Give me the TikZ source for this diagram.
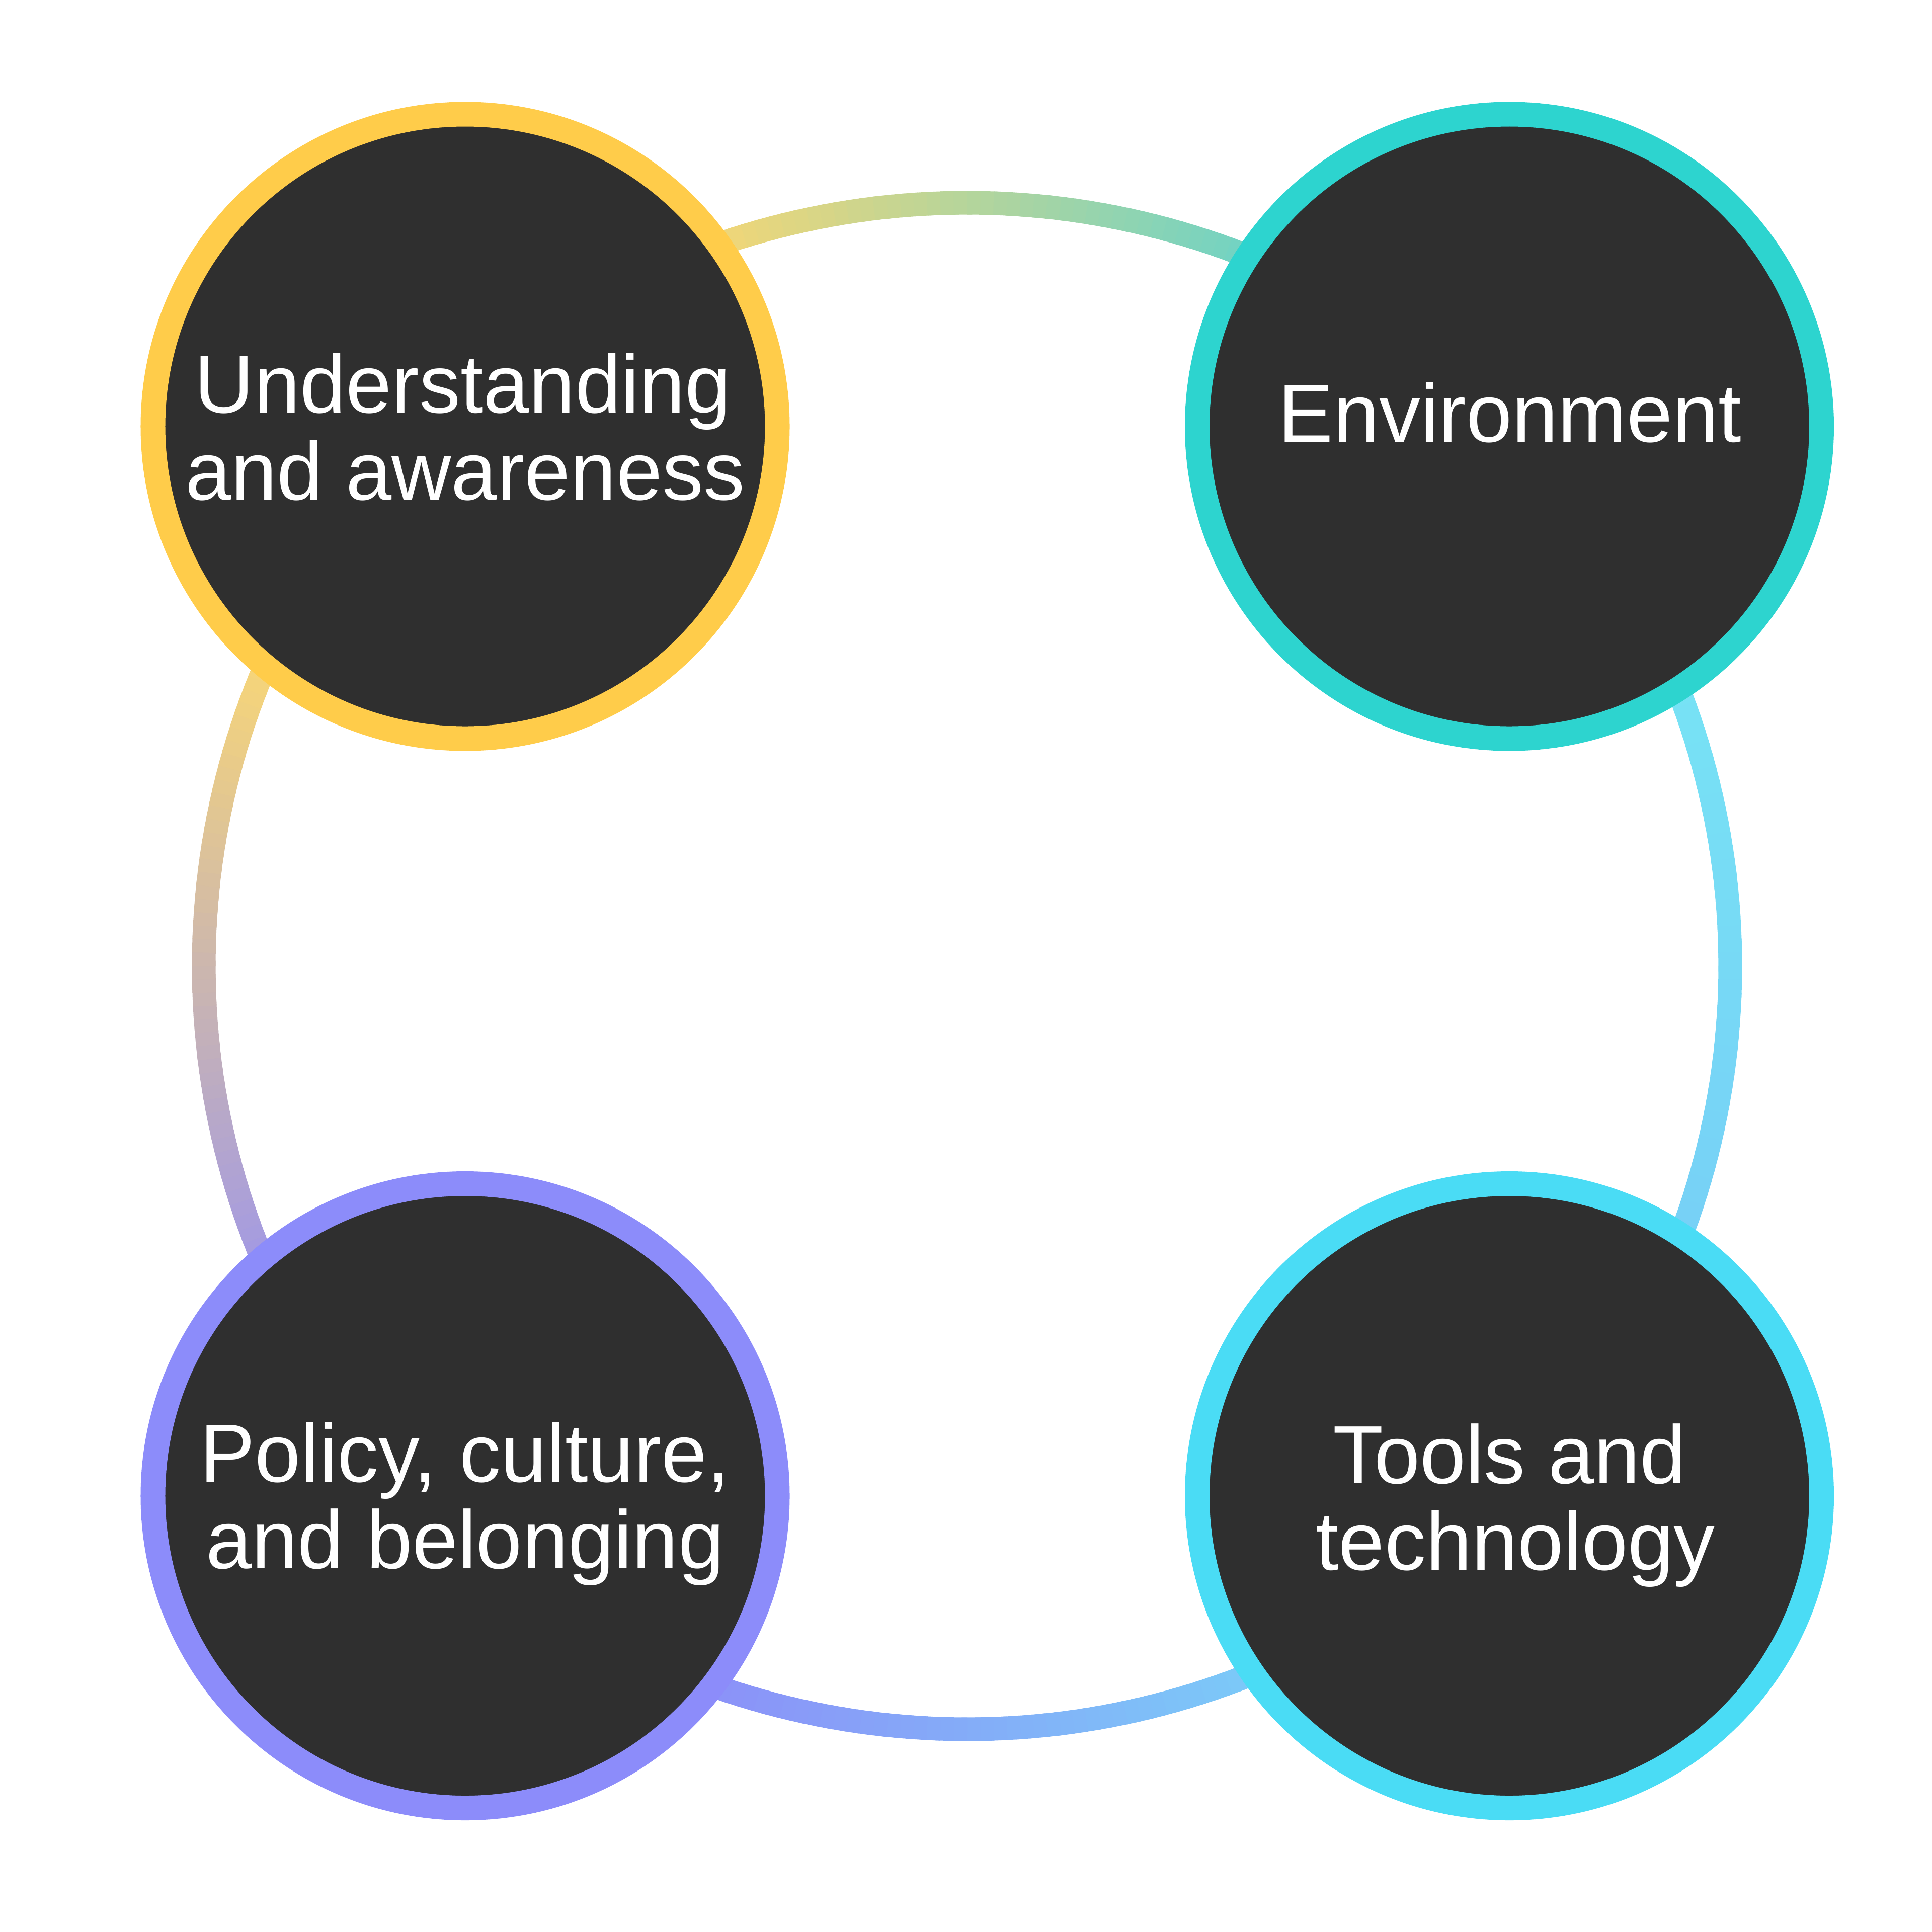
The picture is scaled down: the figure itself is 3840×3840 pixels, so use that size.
\documentclass[tikz,border=0pt]{standalone}
\usepackage{fontspec}
\setmainfont{Liberation Sans}
\definecolor{darkfill}{HTML}{2F2F2F}
\definecolor{cyellow}{HTML}{FFCC4A}
\definecolor{cteal}{HTML}{2DD4CF}
\definecolor{cpurple}{HTML}{8C8CFA}
\definecolor{ccyan}{HTML}{4ADCF5}
\definecolor{ctA}{HTML}{EDD67A}
\definecolor{ctB}{HTML}{72D3C3}
\definecolor{crA}{HTML}{77E2F5}
\definecolor{crB}{HTML}{77D0F6}
\definecolor{cbA}{HTML}{7CC8F8}
\definecolor{cbB}{HTML}{8C8FF8}
\definecolor{clA}{HTML}{A59BE0}
\definecolor{clB}{HTML}{F5D47A}
\tikzset{
  bubble/.style={circle, fill=darkfill, line width=9.8pt, minimum size=248.2pt, inner sep=0pt},
  label/.style={anchor=base, text=white, inner sep=0pt,
    font=\fontsize{32.8pt}{34.6pt}\selectfont}
}
\begin{document}
\begin{tikzpicture}[x=0.2pt, y=-0.2pt]
\fill[white] (0,0) rectangle (3840,3840);
\useasboundingbox (0,0) rectangle (3840,3840);
\coordinate (C) at (1922,1920);
% gradient ring: each quarter shades between its visible ends
\foreach \s/\e/\vs/\ve/\ca/\cb in {135/45/108/69/ctA/ctB, 45/-45/21/-21/crA/crB, -45/-135/-69/-111/cbA/cbB, -135/-225/-158/-202/clA/clB} {
  \foreach \k in {0,...,89} {
    \pgfmathsetmacro\aa{\s+(\e-\s)*\k/90}
    \pgfmathsetmacro\na{-\aa}
    \pgfmathsetmacro\nb{-(\s+(\e-\s)*(\k+1.4)/90)}
    \pgfmathtruncatemacro\q{100*(1-max(0,min(1,(\aa-\vs)/(\ve-\vs))))}
    \draw[line width=9.4pt, draw={\ca!\q!\cb}]
      ([shift={(C)}]\na:1517) arc[start angle=\na, end angle=\nb, radius=1517];
  }
}
% circles
\node[bubble, draw=cyellow] (ua) at (924.5,847.5) {};
\node[bubble, draw=cteal] (env) at (3000,847.5) {};
\node[bubble, draw=cpurple] (pcb) at (924.5,2973) {};
\node[bubble, draw=ccyan] (tt) at (3000,2973) {};
% labels
\node[label] (ua1) at (920,820) {Understanding};
\node[label] (ua2) at (924.5,993) {and awareness};
\node[label] (env1) at (3001,878) {Environment};
\node[label] (pcb1) at (924.5,2945) {Policy, culture,};
\node[label] (pcb2) at (924.5,3117) {and belonging};
\node[label] (tt1) at (3000,2948) {Tools and};
\node[label] (tt2) at (3012,3120) {technology};
\end{tikzpicture}
\end{document}
